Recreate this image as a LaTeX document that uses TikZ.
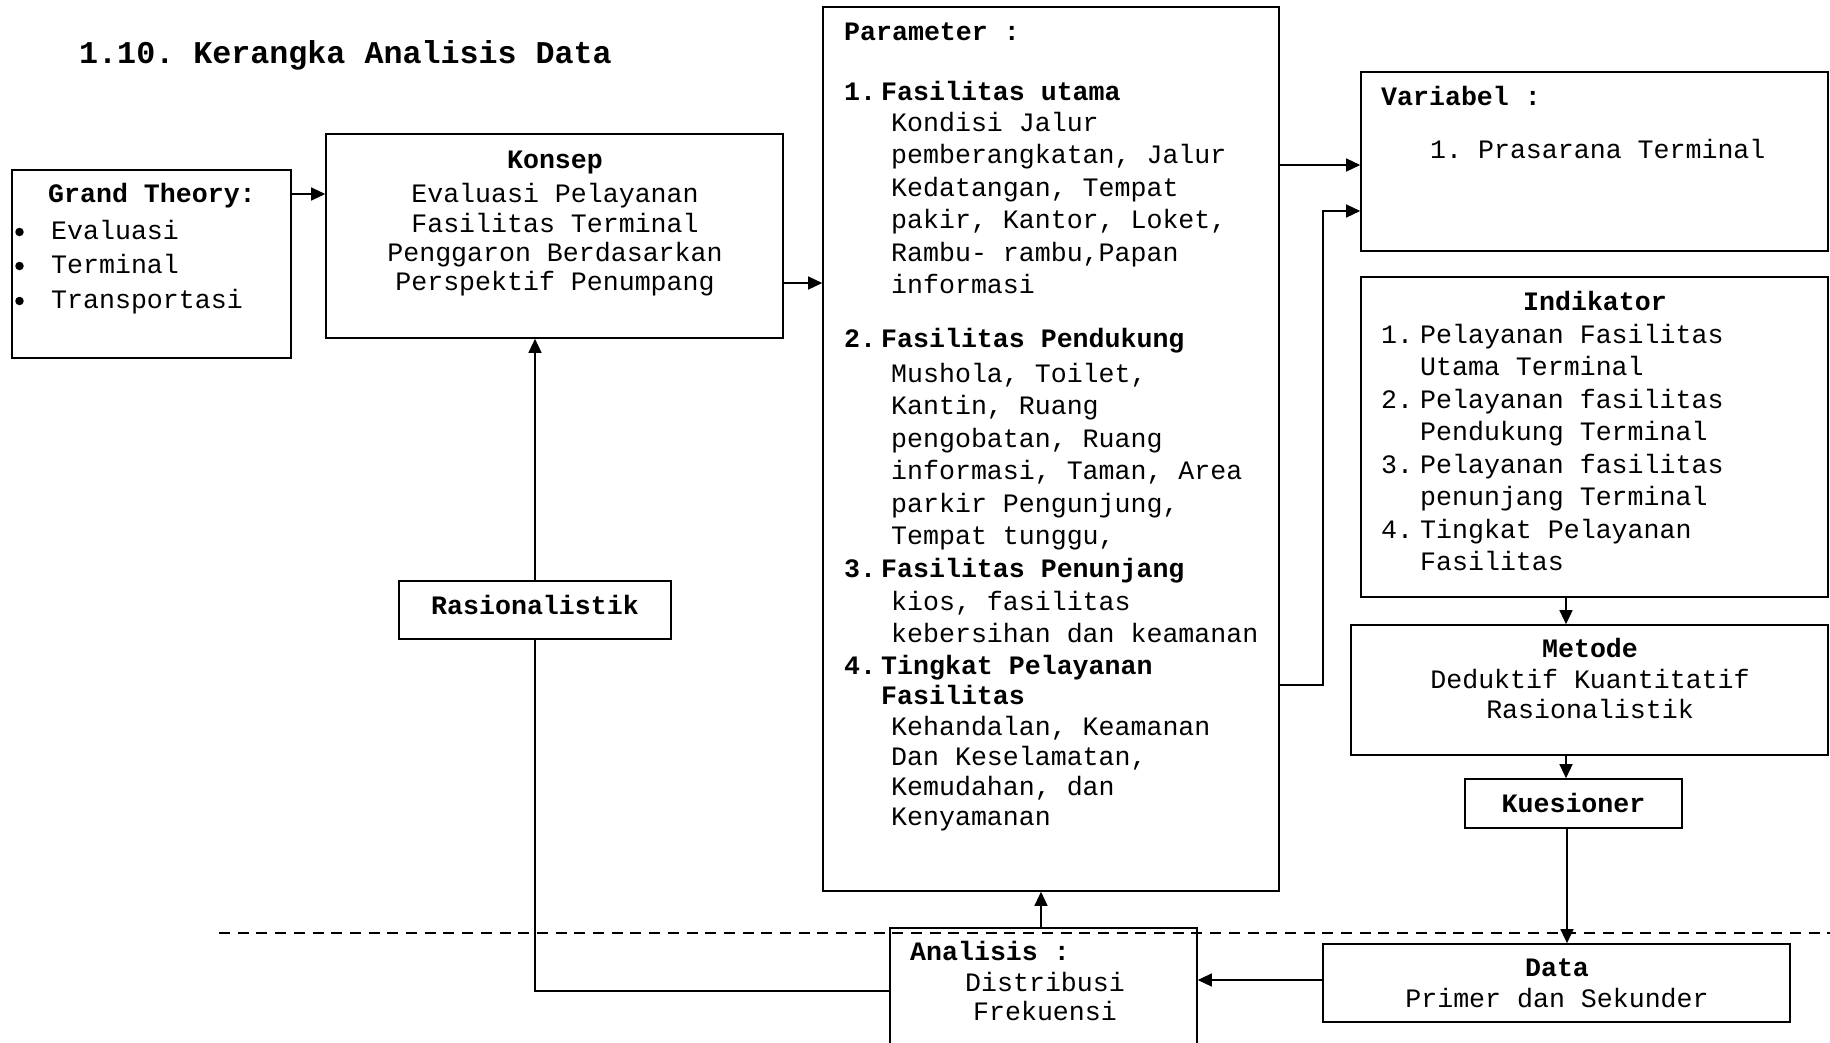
\documentclass[tikz,border=0pt]{standalone}
\usepackage{fontspec}
\setmainfont{Liberation Mono}
\usetikzlibrary{arrows.meta}
\frenchspacing
\begin{document}
\begin{tikzpicture}[x=1pt,y=-1pt,
  box/.style={draw,line width=1.6pt,rectangle,inner sep=0pt},
  conn/.style={line width=1.3pt},
  arr/.style={conn,-{Triangle[length=14pt,width=13pt]}},
  txt/.style={inner sep=0pt,anchor=base west,font=\fontsize{26.6}{32.5}\selectfont\frenchspacing},
  btxt/.style={txt,font=\fontsize{26.6}{32.5}\selectfont\bfseries\frenchspacing},
  ctxt/.style={txt,anchor=base},
  cbtxt/.style={btxt,anchor=base},
  dot/.style={circle,fill,inner sep=0pt,minimum size=8.5pt},
  sep/.style={line width=2.3pt,dash pattern=on 11pt off 7.7pt}
]
\useasboundingbox (0,0) rectangle (1830,1042);
\clip (0,0) rectangle (1830,1042);

% title
\node[btxt,font=\fontsize{31.7}{38}\selectfont\bfseries\frenchspacing] (title) at (79,63) {1.10. Kerangka Analisis Data};

% boxes
\node[box,minimum width=279pt,minimum height=188pt] (gt) at (151.5,264) {};
\node[box,minimum width=457pt,minimum height=204pt] (konsep) at (554.5,236) {};
\node[box,minimum width=456pt,minimum height=884pt] (param) at (1051,449) {};
\node[box,minimum width=467pt,minimum height=179pt] (var) at (1594.5,161.5) {};
\node[box,minimum width=467pt,minimum height=320pt] (ind) at (1594.5,437) {};
\node[box,minimum width=477pt,minimum height=130pt] (met) at (1589.5,690) {};
\node[box,minimum width=217pt,minimum height=49pt] (kue) at (1573.5,803.5) {};
\node[box,minimum width=467pt,minimum height=78pt] (data) at (1556.5,983) {};
\node[box,minimum width=307pt,minimum height=132pt] (ana) at (1043.5,994) {};
\node[box,minimum width=272pt,minimum height=58pt] (ras) at (535,610) {};

% Grand Theory
\node[btxt] (gtt) at (48,202) {Grand Theory:};
\node[dot] (b1) at (19.5,232) {};
\node[dot] (b2) at (19.5,266) {};
\node[dot] (b3) at (19.5,301) {};
\node[txt] (g1) at (51,239) {Evaluasi};
\node[txt] (g2) at (51,273) {Terminal};
\node[txt] (g3) at (51,308) {Transportasi};

% Konsep
\node[cbtxt] (kt) at (555,168) {Konsep};
\node[ctxt] (k1) at (555,202) {Evaluasi Pelayanan};
\node[ctxt] (k2) at (555,232) {Fasilitas Terminal};
\node[ctxt] (k3) at (555,261) {Penggaron Berdasarkan};
\node[ctxt] (k4) at (555,290) {Perspektif Penumpang};

% Parameter
\node[btxt] (pt) at (844,40) {Parameter :};
\node[btxt] (pn1) at (844,100) {1.};
\node[btxt] (ph1) at (881,100) {Fasilitas utama};
\node[txt] (pb1) at (891,131) {\vtop{\hbox{Kondisi Jalur}\hbox{pemberangkatan, Jalur}\hbox{Kedatangan, Tempat}\hbox{pakir, Kantor, Loket,}\hbox{Rambu- rambu,Papan}\hbox{informasi}}};
\node[btxt] (pn2) at (844,347) {2.};
\node[btxt] (ph2) at (881,347) {Fasilitas Pendukung};
\node[txt] (pb2) at (891,382) {\vtop{\hbox{Mushola, Toilet,}\hbox{Kantin, Ruang}\hbox{pengobatan, Ruang}\hbox{informasi, Taman, Area}\hbox{parkir Pengunjung,}\hbox{Tempat tunggu,}}};
\node[btxt] (pn3) at (844,577) {3.};
\node[btxt] (ph3) at (881,577) {Fasilitas Penunjang};
\node[txt] (pb3) at (891,610) {\vtop{\hbox{kios, fasilitas}\hbox{kebersihan dan keamanan}}};
\node[btxt] (pn4) at (844,674) {4.};
\node[btxt] (ph4) at (881,674) {\vtop{\baselineskip=30pt\hbox{Tingkat Pelayanan}\hbox{Fasilitas}}};
\node[txt] (pb4) at (891,735) {\vtop{\baselineskip=30pt\hbox{Kehandalan, Keamanan}\hbox{Dan Keselamatan,}\hbox{Kemudahan, dan}\hbox{Kenyamanan}}};

% Variabel
\node[btxt] (vt) at (1381,105) {Variabel :};
\node[txt] (v1) at (1430,158) {1. Prasarana Terminal};

% Indikator
\node[cbtxt] (it) at (1595,310) {Indikator};
\node[txt] (in1) at (1381,343) {1.};
\node[txt] (in2) at (1381,408) {2.};
\node[txt] (in3) at (1381,473) {3.};
\node[txt] (in4) at (1381,538) {4.};
\node[txt] (ib) at (1420,343) {\vtop{\hbox{Pelayanan Fasilitas}\hbox{Utama Terminal}\hbox{Pelayanan fasilitas}\hbox{Pendukung Terminal}\hbox{Pelayanan fasilitas}\hbox{penunjang Terminal}\hbox{Tingkat Pelayanan}\hbox{Fasilitas}}};

% Metode
\node[cbtxt] (mt) at (1590,657) {Metode};
\node[ctxt] (m1) at (1590,688) {Deduktif Kuantitatif};
\node[ctxt] (m2) at (1590,718) {Rasionalistik};

% Kuesioner
\node[cbtxt] (kut) at (1573.5,812) {Kuesioner};

% Data
\node[cbtxt] (dt) at (1557,976) {Data};
\node[ctxt] (d1) at (1557,1007) {Primer dan Sekunder};

% Analisis
\node[btxt] (at) at (910,960) {Analisis :};
\node[ctxt] (a1) at (1045,991) {Distribusi};
\node[ctxt] (a2) at (1045,1020) {Frekuensi};

% Rasionalistik
\node[cbtxt] (rt) at (535,614) {Rasionalistik};

% separator
\coordinate (sepL) at (219,933);
\coordinate (sepR) at (1830,933);
\draw[sep] (sepL) -- (sepR);

% connectors
\coordinate (bend) at (1323,211);
\draw[arr] (gt.east |- 0,194) -- (konsep.west |- 0,194);
\draw[arr] (konsep.east |- 0,283) -- (param.west |- 0,283);
\draw[arr] (param.east |- 0,165) -- (var.west |- 0,165);
\draw[arr] (param.east |- 0,685) -| (bend) -- (var.west |- bend);
\draw[arr] (ind.south -| 1566,0) -- (met.north -| 1566,0);
\draw[arr] (met.south -| 1566,0) -- (kue.north -| 1566,0);
\draw[arr] (kue.south -| 1567,0) -- (data.north -| 1567,0);
\draw[arr] (data.west |- 0,980) -- (ana.east |- 0,980);
\draw[arr] (ana.north -| 1041,0) -- (param.south -| 1041,0);
\draw[conn] (ana.west |- 0,991) -| (ras.south);
\draw[arr] (ras.north) -- (konsep.south -| ras.north);
\end{tikzpicture}
\end{document}
